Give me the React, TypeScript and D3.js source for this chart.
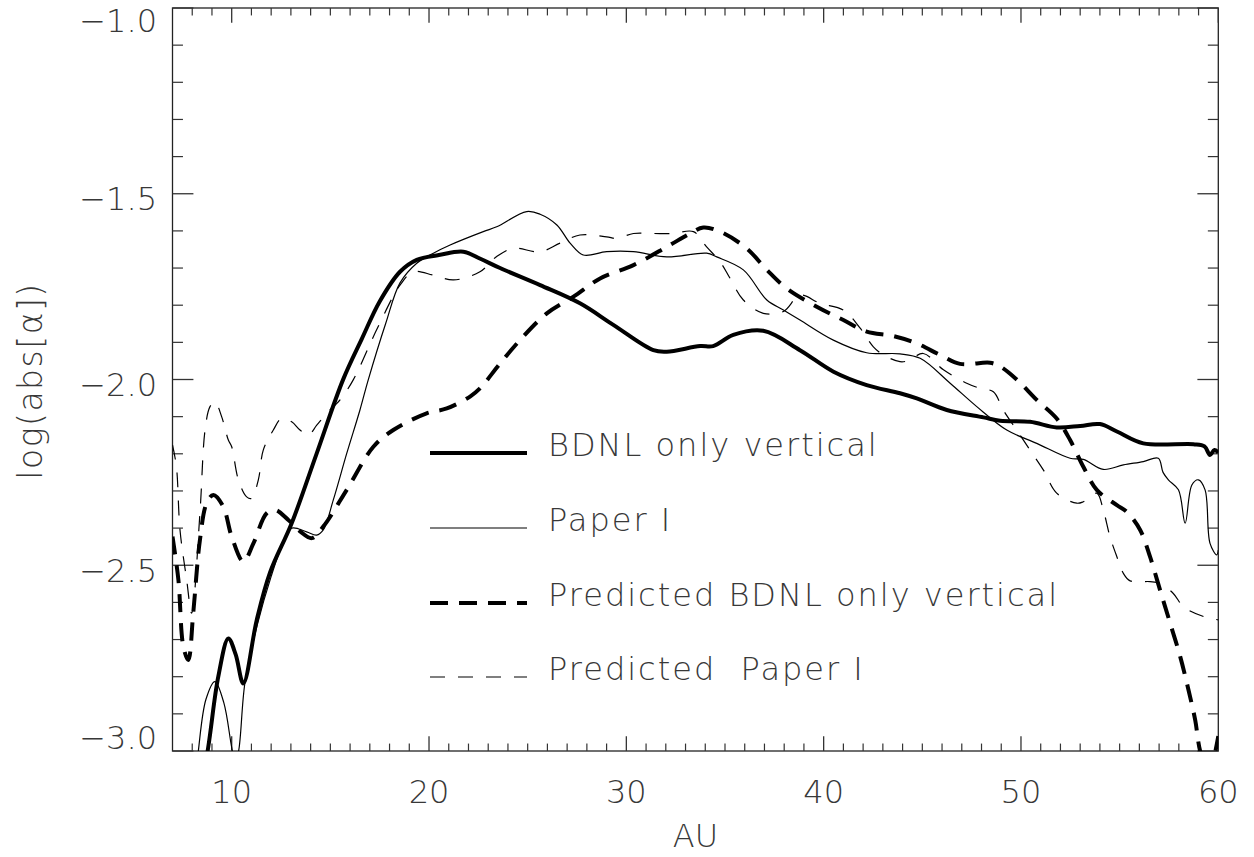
import React from "react";
import * as d3 from "d3";

const xTicks = [10, 20, 30, 40, 50, 60];
const yTicks = [-3.0, -2.5, -2.0, -1.5, -1.0];
const yTickLabels = ["\u22123.0", "\u22122.5", "\u22122.0", "\u22121.5", "\u22121.0"];

// BDNL only vertical (thick solid)
const bdnlAU = [8.3, 8.81, 9.32, 9.83, 10.2, 10.59, 11.27, 11.94, 13.04, 14.3, 15.64, 16.6, 17.5, 18.53, 19.38, 20.5, 21.74, 22.6, 23.6, 25.63, 27.65, 29.34, 31.37, 32.05, 33.74, 34.4, 35.42, 36.94, 38.8, 40.5, 42.18, 43.87, 44.72, 46.24, 48.1, 48.94, 50.46, 51.81, 53.0, 54.0, 54.86, 56.2, 58.74, 59.3, 59.58, 59.8, 60];
const bdnlVal = [-3.15, -2.99, -2.8, -2.697, -2.74, -2.818, -2.647, -2.52, -2.387, -2.2, -2.001, -1.89, -1.79, -1.71, -1.678, -1.665, -1.656, -1.675, -1.70, -1.746, -1.795, -1.853, -1.921, -1.925, -1.91, -1.91, -1.88, -1.869, -1.921, -1.979, -2.015, -2.037, -2.051, -2.082, -2.102, -2.111, -2.114, -2.129, -2.125, -2.12, -2.14, -2.172, -2.174, -2.18, -2.203, -2.19, -2.197];

// Paper I (thin solid)
const paperAU = [8.1, 8.31, 8.7, 9.15, 9.6, 10.0, 10.17, 10.35, 10.67, 11.3, 12.0, 12.6, 13.04, 13.8, 14.3, 14.64, 15.15, 15.83, 16.5, 16.92, 17.8, 18.53, 19.38, 20.22, 21.07, 22.75, 23.43, 24.95, 25.63, 26.48, 27.15, 27.82, 29.0, 30.36, 32.05, 34.07, 34.58, 35.93, 37.12, 37.96, 38.8, 40.49, 42.18, 43.87, 44.89, 46.41, 47.76, 49.28, 50.8, 52.49, 53.16, 54.17, 55.19, 56.2, 56.96, 57.2, 57.47, 57.98, 58.32, 58.66, 58.99, 59.33, 59.58, 59.92, 60];
const paperVal = [-3.12, -3.0, -2.86, -2.813, -2.87, -2.99, -3.03, -3.0, -2.817, -2.66, -2.53, -2.44, -2.40, -2.41, -2.419, -2.405, -2.324, -2.199, -2.082, -2.001, -1.85, -1.74, -1.687, -1.66, -1.638, -1.602, -1.589, -1.548, -1.555, -1.584, -1.633, -1.665, -1.656, -1.656, -1.67, -1.66, -1.67, -1.705, -1.786, -1.813, -1.84, -1.894, -1.928, -1.931, -1.943, -2.01, -2.073, -2.136, -2.172, -2.212, -2.215, -2.242, -2.23, -2.221, -2.212, -2.25, -2.27, -2.297, -2.387, -2.284, -2.27, -2.297, -2.441, -2.472, -2.459];

// Predicted BDNL only vertical (thick dashed)
const predBdnlAU = [7.0, 7.3, 7.55, 7.8, 8.05, 8.39, 8.73, 9.07, 9.57, 10.0, 10.59, 11.1, 11.77, 12.2, 12.87, 13.5, 14.06, 14.64, 15.83, 17.18, 18.19, 19.88, 20.9, 22.08, 22.58, 23.6, 24.61, 25.97, 27.32, 28.67, 30.36, 32.05, 33.23, 33.9, 34.75, 36.1, 37.12, 38.13, 39.65, 41.0, 42.18, 43.53, 44.72, 45.9, 46.91, 48.43, 48.94, 49.78, 50.8, 51.81, 52.49, 53.16, 53.84, 54.86, 55.36, 56.04, 56.54, 57.05, 57.56, 58.07, 58.49, 58.83, 59.08, 59.5, 60];
const predBdnlVal = [-2.423, -2.54, -2.719, -2.755, -2.629, -2.432, -2.333, -2.311, -2.342, -2.423, -2.49, -2.441, -2.36, -2.351, -2.378, -2.41, -2.427, -2.396, -2.297, -2.181, -2.136, -2.091, -2.078, -2.046, -2.024, -1.957, -1.894, -1.822, -1.777, -1.728, -1.692, -1.643, -1.607, -1.591, -1.602, -1.647, -1.705, -1.755, -1.804, -1.84, -1.871, -1.883, -1.903, -1.934, -1.958, -1.955, -1.965, -2.0, -2.055, -2.105, -2.163, -2.235, -2.297, -2.338, -2.356, -2.405, -2.477, -2.567, -2.656, -2.746, -2.836, -2.917, -3.0, -3.06, -2.96];

// Predicted Paper I (thin dashed)
const predPaperAU = [7.0, 7.2, 7.38, 7.72, 7.97, 8.39, 8.65, 8.9, 9.15, 9.49, 9.83, 10.0, 10.34, 10.76, 11.01, 11.35, 11.6, 12.11, 12.53, 13.04, 13.46, 13.88, 14.31, 14.82, 15.49, 16.16, 17.4, 18.53, 19.2, 20.22, 21.24, 22.58, 23.43, 24.27, 25.63, 26.64, 27.65, 29.0, 29.51, 30.36, 31.37, 32.38, 33.4, 34.07, 34.75, 35.26, 35.93, 36.94, 37.96, 38.8, 39.82, 41.0, 41.85, 42.52, 43.03, 43.87, 44.3, 45.05, 46.07, 47.25, 47.93, 48.6, 49.1, 49.78, 50.46, 51.14, 51.81, 52.83, 53.16, 53.84, 54.17, 54.51, 54.86, 55.19, 55.53, 56.54, 57.05, 57.72, 58.24, 59.25, 60];
const predPaperVal = [-2.176, -2.235, -2.405, -2.54, -2.629, -2.36, -2.136, -2.073, -2.06, -2.1, -2.163, -2.181, -2.27, -2.316, -2.32, -2.27, -2.19, -2.136, -2.105, -2.114, -2.136, -2.15, -2.123, -2.091, -2.055, -2.001, -1.86, -1.746, -1.71, -1.719, -1.732, -1.71, -1.669, -1.647, -1.656, -1.633, -1.611, -1.616, -1.62, -1.607, -1.607, -1.607, -1.602, -1.643, -1.683, -1.728, -1.786, -1.822, -1.817, -1.773, -1.795, -1.813, -1.862, -1.912, -1.934, -1.952, -1.949, -1.93, -1.974, -2.01, -2.024, -2.033, -2.082, -2.136, -2.19, -2.244, -2.306, -2.333, -2.329, -2.306, -2.351, -2.423, -2.477, -2.522, -2.542, -2.544, -2.549, -2.576, -2.612, -2.638, -2.647];

const legendLabels = ["BDNL only vertical", "Paper I", "Predicted BDNL only vertical", "Predicted  Paper I"];

const W = 1254;
const H = 857;
const L = 172.5, R = 1218.3, T = 8, B = 751;

const FONT = "'DejaVu Sans', sans-serif";
const TEXT_COLOR = "#383838";

export default function App() {
  const x = d3.scaleLinear().domain([7, 60]).range([L, R]);
  const y = d3.scaleLinear().domain([-3, -1]).range([B, T]);

  const mk = (xs: number[], ys: number[]) =>
    d3.line<number>().x((_, i) => x(xs[i])).y((_, i) => y(ys[i])).curve(d3.curveCatmullRom.alpha(0.5))(xs.map((v) => v)) || "";

  const series = [
    { d: mk(bdnlAU, bdnlVal), w: 4, dash: undefined as string | undefined },
    { d: mk(paperAU, paperVal), w: 1.2, dash: undefined },
    { d: mk(predBdnlAU, predBdnlVal), w: 4, dash: "18,11" },
    { d: mk(predPaperAU, predPaperVal), w: 1.2, dash: "15,13" },
  ];

  const plotW = R - L;
  const plotH = B - T;
  const xMajor = plotH * 0.02;
  const yMajor = plotW * 0.02;
  const xMinor = d3.range(8, 60, 1).filter((v) => v % 10 !== 0);
  const yMinor = d3.range(-29, -10, 1).filter((v) => v % 5 !== 0).map((v) => v / 10);

  const legendY = [453, 528, 603, 677];

  return (
    <svg width={W} height={H} style={{ position: "absolute", left: 0, top: 0, background: "#fff" }}>
      <defs>
        <clipPath id="plotclip">
          <rect x={L} y={T} width={plotW} height={plotH} />
        </clipPath>
      </defs>
      <rect x={0} y={0} width={W} height={H} fill="#fff" />
      <rect x={L} y={T} width={plotW} height={plotH} fill="none" stroke="#222" strokeWidth={1.3} />
      {xTicks.map((t) => (
        <g key={"xt" + t}>
          <line x1={x(t)} x2={x(t)} y1={B} y2={B - xMajor} stroke="#333" strokeWidth={1.3} />
          <line x1={x(t)} x2={x(t)} y1={T} y2={T + xMajor} stroke="#333" strokeWidth={1.3} />
          <text x={x(t)} y={803} textAnchor="middle" fontFamily={FONT} fontWeight={200} fontSize={32} fill={TEXT_COLOR}>
            {t}
          </text>
        </g>
      ))}
      {xMinor.map((t) => (
        <g key={"xm" + t}>
          <line x1={x(t)} x2={x(t)} y1={B} y2={B - xMajor / 2} stroke="#333" strokeWidth={1.2} />
          <line x1={x(t)} x2={x(t)} y1={T} y2={T + xMajor / 2} stroke="#333" strokeWidth={1.2} />
        </g>
      ))}
      {yTicks.map((t, i) => {
        const ly = Math.max(T + 12.5, Math.min(B - 13.5, y(t) + 5));
        return (
          <g key={"yt" + t}>
            <line x1={L} x2={L + yMajor} y1={y(t)} y2={y(t)} stroke="#333" strokeWidth={1.3} />
            <line x1={R} x2={R - yMajor} y1={y(t)} y2={y(t)} stroke="#333" strokeWidth={1.3} />
            <text x={157} y={ly} dy="0.36em" textAnchor="end" fontFamily={FONT} fontWeight={200} fontSize={32} fill={TEXT_COLOR}>
              {yTickLabels[i]}
            </text>
          </g>
        );
      })}
      {yMinor.map((t) => (
        <g key={"ym" + t}>
          <line x1={L} x2={L + yMajor / 2} y1={y(t)} y2={y(t)} stroke="#333" strokeWidth={1.2} />
          <line x1={R} x2={R - yMajor / 2} y1={y(t)} y2={y(t)} stroke="#333" strokeWidth={1.2} />
        </g>
      ))}
      <text x={(L + R) / 2} y={847} textAnchor="middle" fontFamily={FONT} fontWeight={200} fontSize={32} fill={TEXT_COLOR}>
        AU
      </text>
      <text transform={`translate(42,381) rotate(-90)`} textAnchor="middle" fontFamily={FONT} fontWeight={200} fontSize={33} fill={TEXT_COLOR} letterSpacing={1.5}>
        log(abs[α])
      </text>
      <g clipPath="url(#plotclip)">
        {series.map((s, i) => (
          <path key={"s" + i} d={s.d} fill="none" stroke="#000" strokeWidth={s.w} strokeDasharray={s.dash} strokeLinejoin="round" />
        ))}
      </g>
      {legendLabels.map((lab, i) => (
        <g key={"lg" + i}>
          <line x1={430} x2={527} y1={legendY[i]} y2={legendY[i]} stroke="#000" strokeWidth={series[i].w} strokeDasharray={series[i].dash} />
          <text x={548} y={legendY[i] + 3} fontFamily={FONT} fontWeight={200} fontSize={32} fill={TEXT_COLOR} letterSpacing={2} style={{ whiteSpace: "pre" }}>
            {lab}
          </text>
        </g>
      ))}
    </svg>
  );
}
